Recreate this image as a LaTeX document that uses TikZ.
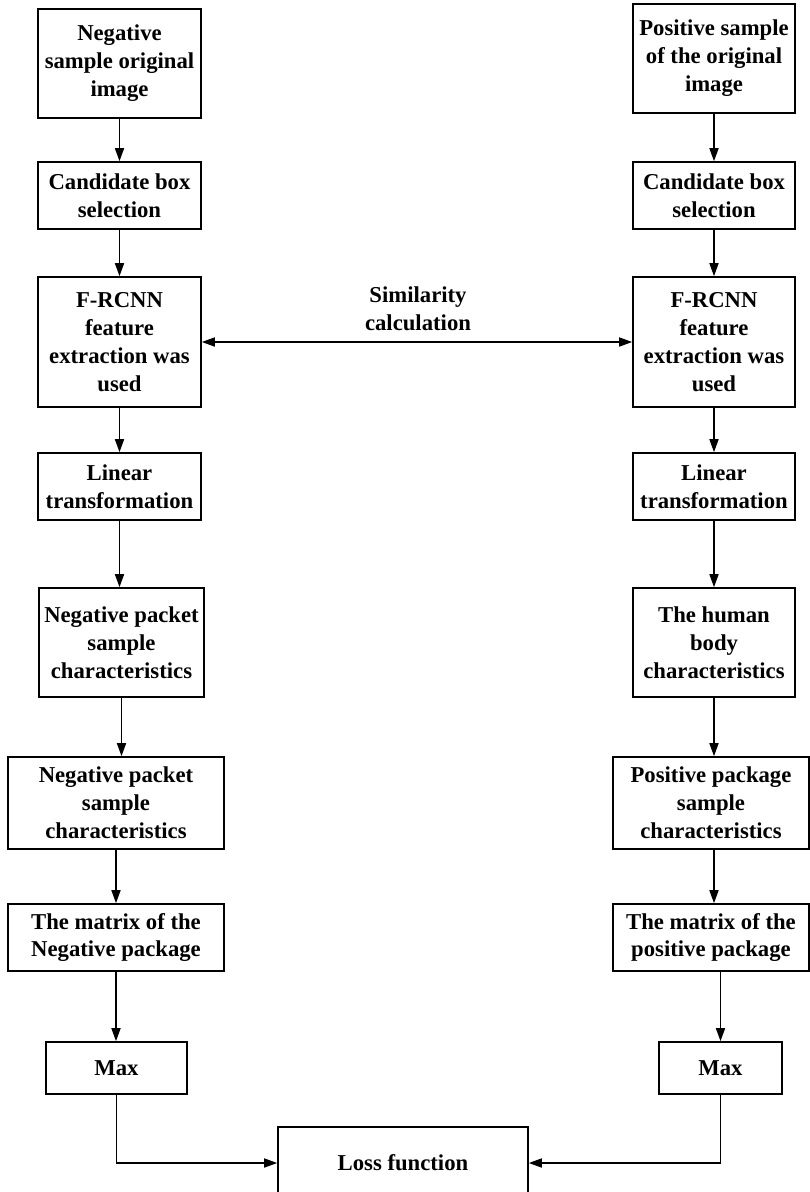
\documentclass[tikz,border=0pt]{standalone}
\usepackage{fontspec}
\setmainfont{Liberation Serif}
\usetikzlibrary{positioning,arrows.meta,calc}

\begin{document}
\begin{tikzpicture}[
  x=1pt,y=-1pt,>={Triangle[length=13pt,width=9pt]},
  font=\fontsize{22.7}{28}\selectfont\bfseries,
  stage/.style={draw=black,line width=1.6pt,align=center,inner sep=0pt},
  link/.style={->,black,line width=1.6pt}
]
\useasboundingbox (0,0) rectangle (810,1192);
% negative branch
\node[stage,minimum width=163pt,minimum height=109pt] (nimg) at (119.5,63.5) {Negative\\sample original\\image};
\node[stage,minimum width=163pt,minimum height=67pt] (ncand) at (119.5,195.5) {Candidate box\\selection};
\node[stage,minimum width=163pt,minimum height=130pt] (nfeat) at (119.5,342) {F-RCNN\\feature\\extraction was\\used};
\node[stage,minimum width=163pt,minimum height=67pt] (nlin) at (119.5,486.5) {Linear\\transformation};
\node[stage,minimum width=165pt,minimum height=109pt] (nchar) at (121.5,642.5) {Negative packet\\sample\\characteristics};
\node[stage,minimum width=216pt,minimum height=92pt] (npack) at (116,803) {Negative packet\\sample\\characteristics};
\node[stage,minimum width=216pt,minimum height=67pt] (nmat) at (116,937.5) {The matrix of the\\Negative package};
\node[stage,minimum width=141pt,minimum height=52pt] (nmax) at (116.5,1068) {Max};
% positive branch
\node[stage,minimum width=162pt,minimum height=109pt] (pimg) at (714,58.5) {Positive sample\\of the original\\image};
\node[stage,minimum width=162pt,minimum height=67pt] (pcand) at (714,195.5) {Candidate box\\selection};
\node[stage,minimum width=162pt,minimum height=130pt] (pfeat) at (714,342) {F-RCNN\\feature\\extraction was\\used};
\node[stage,minimum width=162pt,minimum height=67pt] (plin) at (714,486.5) {Linear\\transformation};
\node[stage,minimum width=162pt,minimum height=109pt] (pchar) at (714,642.5) {The human\\body\\characteristics};
\node[stage,minimum width=196pt,minimum height=92pt] (ppack) at (711,803) {Positive package\\sample\\characteristics};
\node[stage,minimum width=196pt,minimum height=67pt] (pmat) at (711,937.5) {The matrix of the\\positive package};
\node[stage,minimum width=123pt,minimum height=52pt] (pmax) at (720.5,1068) {Max};
% joint
\node[stage,minimum width=250pt,minimum height=72pt] (loss) at (403,1163) {Loss function};
\node[align=center] (simtext) at (418,309) {Similarity\\calculation};

\draw[link] (nimg.south) -- (nimg.south |- ncand.north);
\draw[link] (ncand.south) -- (ncand.south |- nfeat.north);
\draw[link] (nfeat.south) -- (nfeat.south |- nlin.north);
\draw[link] (nlin.south) -- (nlin.south |- nchar.north);
\draw[link] (nchar.south) -- (nchar.south |- npack.north);
\draw[link] (npack.south) -- (npack.south |- nmat.north);
\draw[link] (nmat.south) -- (nmat.south |- nmax.north);
\draw[link] (pimg.south) -- (pimg.south |- pcand.north);
\draw[link] (pcand.south) -- (pcand.south |- pfeat.north);
\draw[link] (pfeat.south) -- (pfeat.south |- plin.north);
\draw[link] (plin.south) -- (plin.south |- pchar.north);
\draw[link] (pchar.south) -- (pchar.south |- ppack.north);
\draw[link] (pchar.south |- ppack.south) -- (pchar.south |- pmat.north);
\draw[link] (pmax.north |- pmat.south) -- (pmax.north);
\draw[link,<->] (nfeat) -- (pfeat);
\draw[link] (nmax.south) |- (loss.west);
\draw[link] (pmax.south) |- (loss.east);
\end{tikzpicture}
\end{document}
